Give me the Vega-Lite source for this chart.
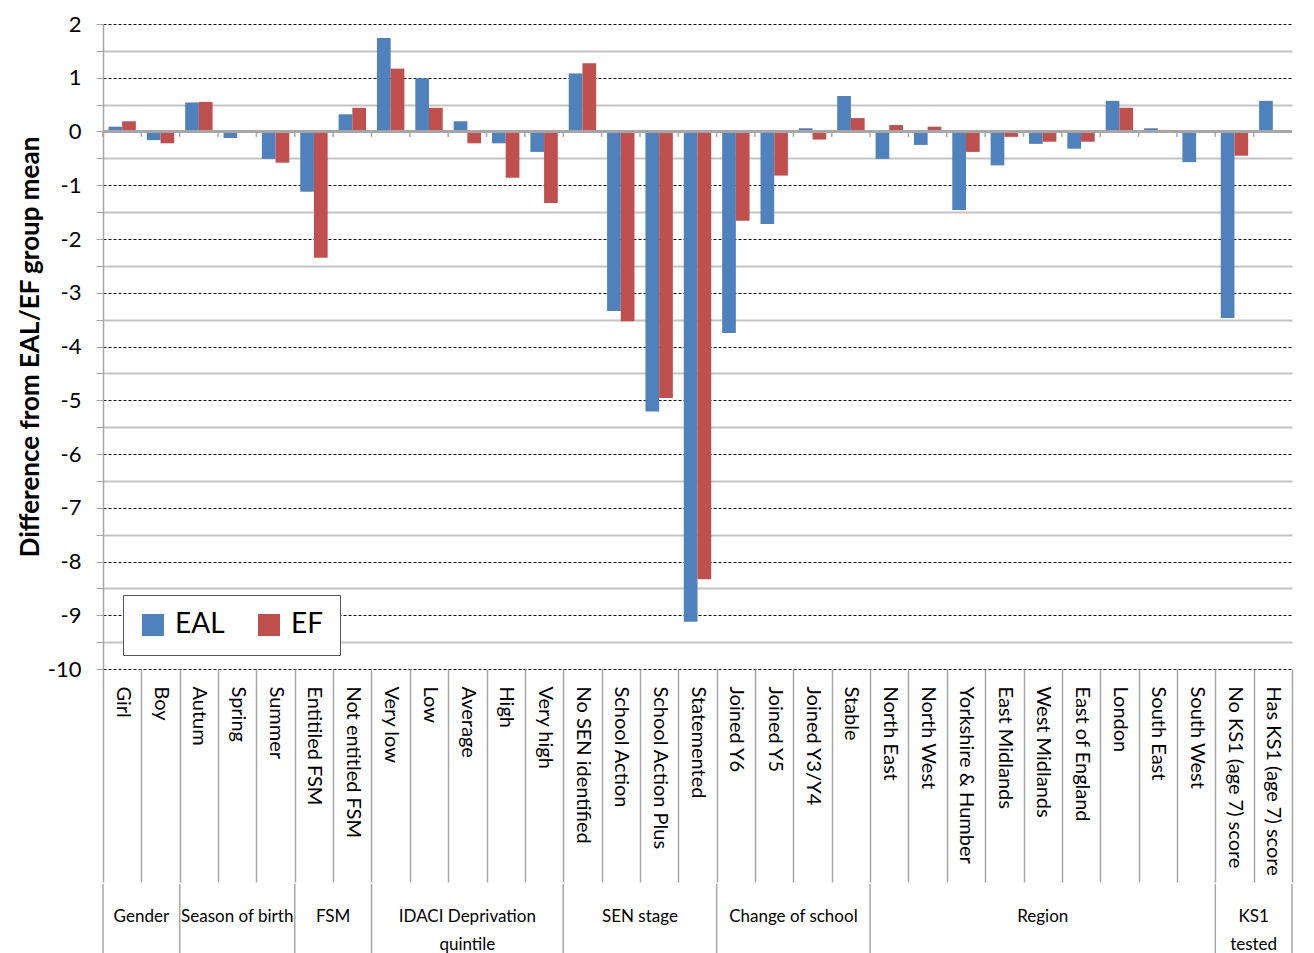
{
  "$schema": "https://vega.github.io/schema/vega-lite/v6.json",
  "background": "white",
  "padding": {"left": 17, "top": 13, "right": 5, "bottom": 0},
  "spacing": 0,
  "config": {
    "font": "Lato",
    "view": {"stroke": null}
  },
  "datasets": {
    "main": [
      {"category": "Girl", "group": "Gender", "EAL": 0.09, "EF": 0.19},
      {"category": "Boy", "group": "Gender", "EAL": -0.16, "EF": -0.22},
      {"category": "Autum", "group": "Season of birth", "EAL": 0.54, "EF": 0.55},
      {"category": "Spring", "group": "Season of birth", "EAL": -0.12, "EF": 0.01},
      {"category": "Summer", "group": "Season of birth", "EAL": -0.51, "EF": -0.58},
      {"category": "Entitiled FSM", "group": "FSM", "EAL": -1.12, "EF": -2.35},
      {"category": "Not entitled FSM", "group": "FSM", "EAL": 0.32, "EF": 0.44},
      {"category": "Very low", "group": "IDACI Deprivation\nquintile", "EAL": 1.74, "EF": 1.17},
      {"category": "Low", "group": "IDACI Deprivation\nquintile", "EAL": 0.99, "EF": 0.44},
      {"category": "Average", "group": "IDACI Deprivation\nquintile", "EAL": 0.19, "EF": -0.22},
      {"category": "High", "group": "IDACI Deprivation\nquintile", "EAL": -0.22, "EF": -0.86},
      {"category": "Very high", "group": "IDACI Deprivation\nquintile", "EAL": -0.38, "EF": -1.33},
      {"category": "No SEN identified", "group": "SEN stage", "EAL": 1.08, "EF": 1.27},
      {"category": "School Action", "group": "SEN stage", "EAL": -3.34, "EF": -3.53},
      {"category": "School Action Plus", "group": "SEN stage", "EAL": -5.21, "EF": -4.96},
      {"category": "Statemented", "group": "SEN stage", "EAL": -9.12, "EF": -8.33},
      {"category": "Joined Y6", "group": "Change of school", "EAL": -3.75, "EF": -1.66},
      {"category": "Joined Y5", "group": "Change of school", "EAL": -1.72, "EF": -0.82},
      {"category": "Joined Y3/Y4", "group": "Change of school", "EAL": 0.06, "EF": -0.15},
      {"category": "Stable", "group": "Change of school", "EAL": 0.66, "EF": 0.25},
      {"category": "North East", "group": "Region", "EAL": -0.51, "EF": 0.12},
      {"category": "North West", "group": "Region", "EAL": -0.25, "EF": 0.09},
      {"category": "Yorkshire & Humber", "group": "Region", "EAL": -1.46, "EF": -0.38},
      {"category": "East Midlands", "group": "Region", "EAL": -0.63, "EF": -0.1},
      {"category": "West Midlands", "group": "Region", "EAL": -0.23, "EF": -0.19},
      {"category": "East of England", "group": "Region", "EAL": -0.32, "EF": -0.19},
      {"category": "London", "group": "Region", "EAL": 0.57, "EF": 0.44},
      {"category": "South East", "group": "Region", "EAL": 0.06, "EF": 0.03},
      {"category": "South West", "group": "Region", "EAL": -0.57, "EF": 0.0},
      {"category": "No KS1 (age 7) score", "group": "KS1\ntested", "EAL": -3.47, "EF": -0.45},
      {"category": "Has KS1 (age 7) score", "group": "KS1\ntested", "EAL": 0.57, "EF": 0.01}
    ]
  },
  "vconcat": [
    {
      "width": 1189,
      "height": 645,
      "data": {"name": "main"},
      "resolve": {"axis": {"y": "independent"}},
      "layer": [
        {
          "mark": {"type": "rule", "color": "#a6a6a6", "strokeWidth": 1.5},
          "encoding": {
            "x": {"field": "category", "type": "nominal", "sort": null, "bandPosition": 0},
            "y": {
              "datum": 0, "type": "quantitative",
              "axis": {
                "orient": "left", "title": null, "labels": false, "domain": false,
                "values": [-9.5, -8.5, -7.5, -6.5, -5.5, -4.5, -3.5, -2.5, -1.5, -0.5, 0.5, 1.5],
                "ticks": true, "tickSize": 7, "tickColor": "#a6a6a6",
                "grid": true, "gridColor": "#c4c4c4", "gridWidth": 2
              }
            },
            "y2": {"datum": -0.1}
          }
        },
        {
          "transform": [{"fold": ["EAL", "EF"], "as": ["series", "value"]}],
          "mark": {"type": "bar"},
          "encoding": {
            "x": {
              "field": "category", "type": "nominal", "sort": null,
              "scale": {"paddingInner": 0, "paddingOuter": 0},
              "axis": {
                "title": null, "tickBand": "extent", "tickSize": 213, "tickColor": "#a6a6a6", "tickWidth": 1.5,
                "labelAngle": 90, "labelAlign": "left", "labelBaseline": "middle", "labelPadding": -196,
                "labelFontSize": 20, "labelColor": "black", "labelLimit": 400, "labelOverlap": false,
                "domain": false, "grid": false
              }
            },
            "xOffset": {"field": "series", "type": "nominal", "scale": {"paddingInner": 0, "paddingOuter": 0.4}},
            "y": {
              "field": "value", "type": "quantitative",
              "scale": {"domain": [-10, 2], "nice": false},
              "axis": {
                "orient": "left",
                "title": "Difference from EAL/EF group mean",
                "titleFontSize": 26, "titleFontWeight": "bold", "titleColor": "black", "titlePadding": 4,
                "values": [-10, -9, -8, -7, -6, -5, -4, -3, -2, -1, 0, 1, 2],
                "labelExpr": "'' + datum.value",
                "labelFontSize": 22, "labelColor": "black", "labelPadding": 15,
                "tickSize": 7, "tickColor": "#a6a6a6", "domainColor": "#a6a6a6", "domainWidth": 1.5,
                "grid": true, "gridColor": "#111111", "gridDash": [3, 2], "gridWidth": 1.2
              }
            },
            "color": {
              "field": "series", "type": "nominal",
              "scale": {"domain": ["EAL", "EF"], "range": ["#4F81BD", "#C0504D"]},
              "legend": {
                "orient": "none", "legendX": 20, "legendY": 571, "direction": "horizontal", "title": null,
                "symbolType": "square", "symbolSize": 484, "symbolStrokeWidth": 0, "symbolOpacity": 1,
                "labelFontSize": 28, "labelColor": "black", "labelOffset": 8, "columnPadding": 30,
                "padding": 16, "strokeColor": "#555555", "fillColor": "white"
              }
            }
          }
        },
        {
          "mark": {"type": "rule", "color": "#a6a6a6", "strokeWidth": 2},
          "encoding": {"y": {"datum": 0, "type": "quantitative", "axis": null}}
        }
      ]
    },
    {
      "width": 1189,
      "height": 71,
      "data": {"name": "main"},
      "transform": [{"window": [{"op": "row_number", "as": "idx"}]}],
      "layer": [
        {
          "transform": [
            {"window": [{"op": "row_number", "as": "gi"}], "groupby": ["group"], "sort": [{"field": "idx"}]},
            {"filter": "datum.gi === 1"}
          ],
          "mark": {"type": "rule", "color": "#a6a6a6", "strokeWidth": 1.5},
          "encoding": {
            "x": {
              "field": "category", "type": "nominal", "bandPosition": 0,
              "scale": {"domain": ["Girl", "Boy", "Autum", "Spring", "Summer", "Entitiled FSM", "Not entitled FSM", "Very low", "Low", "Average", "High", "Very high", "No SEN identified", "School Action", "School Action Plus", "Statemented", "Joined Y6", "Joined Y5", "Joined Y3/Y4", "Stable", "North East", "North West", "Yorkshire & Humber", "East Midlands", "West Midlands", "East of England", "London", "South East", "South West", "No KS1 (age 7) score", "Has KS1 (age 7) score"], "paddingInner": 0, "paddingOuter": 0},
              "axis": null
            }
          }
        },
        {
          "transform": [{"filter": "datum.idx === 31"}],
          "mark": {"type": "rule", "color": "#a6a6a6", "strokeWidth": 1.5},
          "encoding": {
            "x": {
              "field": "category", "type": "nominal", "bandPosition": 1,
              "scale": {"domain": ["Girl", "Boy", "Autum", "Spring", "Summer", "Entitiled FSM", "Not entitled FSM", "Very low", "Low", "Average", "High", "Very high", "No SEN identified", "School Action", "School Action Plus", "Statemented", "Joined Y6", "Joined Y5", "Joined Y3/Y4", "Stable", "North East", "North West", "Yorkshire & Humber", "East Midlands", "West Midlands", "East of England", "London", "South East", "South West", "No KS1 (age 7) score", "Has KS1 (age 7) score"], "paddingInner": 0, "paddingOuter": 0},
              "axis": null
            }
          }
        },
        {
          "transform": [{"aggregate": [{"op": "mean", "field": "idx", "as": "mid"}], "groupby": ["group"]}],
          "mark": {"type": "text", "fontSize": 17, "baseline": "top", "dy": -11, "lineBreak": "\n", "lineHeight": 28, "color": "black"},
          "encoding": {
            "x": {"field": "mid", "type": "quantitative", "scale": {"domain": [0.5, 31.5], "nice": false, "zero": false}, "axis": null},
            "text": {"field": "group", "type": "nominal"}
          }
        }
      ],
      "resolve": {"scale": {"x": "independent"}}
    }
  ]
}
